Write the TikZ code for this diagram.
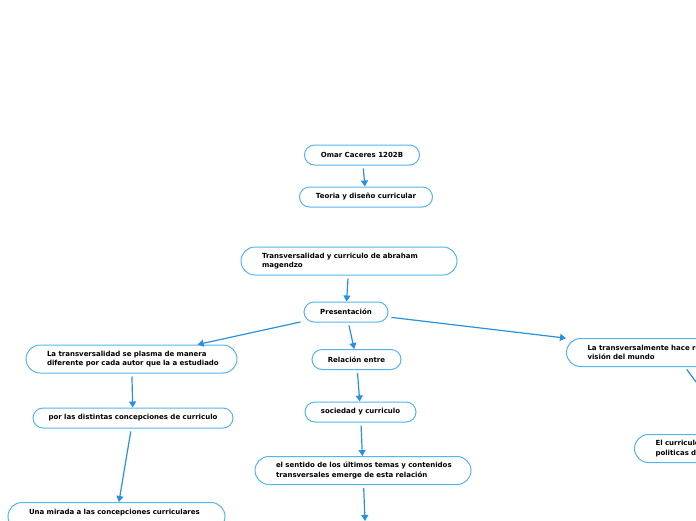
\documentclass[tikz,border=0pt]{standalone}
\usepackage{fontspec}
\setmainfont{DejaVu Sans}
\usetikzlibrary{arrows.meta}
\definecolor{mapline}{HTML}{55B4EC}
\definecolor{maparrow}{HTML}{2990DC}
\begin{document}
\begin{tikzpicture}[x=1pt,y=-1pt, every node/.style={font=\fontsize{7}{9.4}\selectfont\bfseries}, topic/.style={draw=mapline,line width=1pt,rounded corners=10pt,fill=white,minimum height=20pt,inner sep=0pt}, wide/.style={topic,rounded corners=14pt,align=left,text width=#1,inner xsep=21pt,minimum height=28pt}, link/.style={draw=maparrow,line width=1.2pt,shorten <=3pt,-{Triangle[length=6pt,width=7pt]}}]
\useasboundingbox (0,0) rectangle (696,520);
\clip (0,0) rectangle (696,520);
\node[topic,minimum width=115pt] (omar) at (362,155) {Omar Caceres 1202B};
\node[topic,minimum width=133pt] (teoria) at (366,197) {Teoria y diseño curricular};
\node[wide=174pt] (magendzo) at (349,261) {\mbox{Transversalidad y curriculo de abraham}\\magendzo};
\node[topic,minimum width=84pt] (presentacion) at (346,312) {Presentación};
\node[wide=169pt] (plasma) at (131.5,359) {\mbox{La transversalidad se plasma de manera}\\\mbox{diferente por cada autor que la a estudiado}};
\node[topic,minimum width=89pt] (relacion) at (356.5,359.5) {Relación entre};
\node[wide=200pt,anchor=west] (mundo) at (566,352.5) {La transversalmente hace re\\visión del mundo};
\node[topic,minimum width=200pt] (distintas) at (133,418) {por las distintas concepciones de curriculo};
\node[topic,minimum width=111pt] (sociedad) at (360.5,412) {sociedad y curriculo};
\node[wide=174pt] (sentido) at (363,470.5) {\mbox{el sentido de los últimos temas y contenidos}\\\mbox{transversales emerge de esta relación}};
\node[wide=150pt,anchor=west] (politicas) at (634,448.5) {El curriculo\\politicas de};
\node[wide=175pt,anchor=north] (mirada) at (116.5,502) {\mbox{Una mirada a las concepciones curriculares}\\\mbox{}};
\coordinate (bajo) at (365,521);
\coordinate (derecha) at (708,398);
\draw[link] (omar)--(teoria);\draw[link] (magendzo)--(presentacion);\draw[link] (presentacion)--(plasma);\draw[link] (presentacion)--(relacion);\draw[link] (presentacion)--(mundo);
\draw[link] (relacion)--(sociedad);\draw[link] (sociedad)--(sentido);\draw[link] (sentido)--(bajo);\draw[link] (plasma)--(distintas);\draw[link] (distintas)--(mirada);\draw[link] (mundo.-100)--(derecha);
\end{tikzpicture}
\end{document}
